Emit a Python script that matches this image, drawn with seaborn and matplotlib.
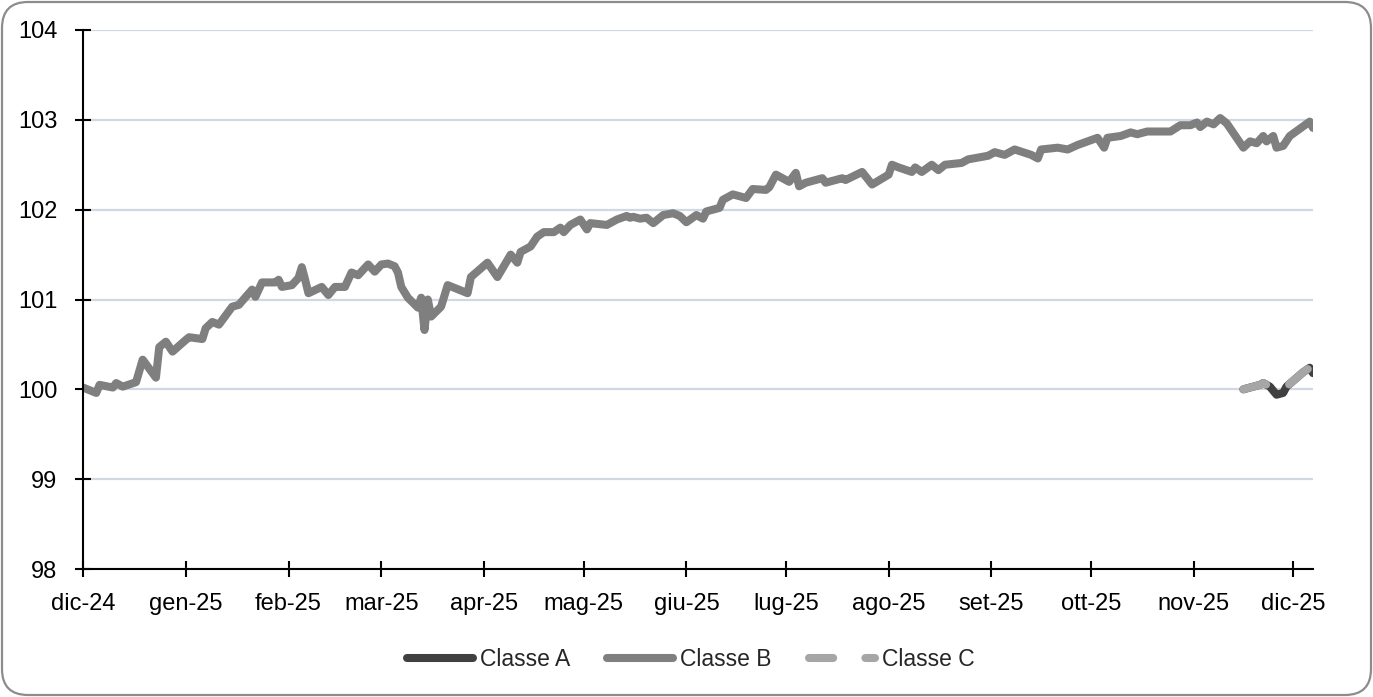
import numpy as np
import pandas as pd
import matplotlib
matplotlib.use("Agg")
import matplotlib.pyplot as plt
from matplotlib.patches import FancyBboxPatch
import seaborn as sns

# ── Data ──────────────────────────────────────────────────────────────────────
B_DATES = [
    "2024-12-01", "2024-12-05", "2024-12-06", "2024-12-10", "2024-12-11", "2024-12-13",
    "2024-12-17", "2024-12-19", "2024-12-23", "2024-12-24", "2024-12-26", "2024-12-28",
    "2025-01-01", "2025-01-02", "2025-01-06", "2025-01-07", "2025-01-09", "2025-01-11",
    "2025-01-15", "2025-01-17", "2025-01-21", "2025-01-22", "2025-01-24", "2025-01-28",
    "2025-01-29", "2025-01-30", "2025-02-02", "2025-02-04", "2025-02-05", "2025-02-06",
    "2025-02-07", "2025-02-11", "2025-02-13", "2025-02-15", "2025-02-18", "2025-02-20",
    "2025-02-22", "2025-02-25", "2025-02-27", "2025-03-01", "2025-03-03", "2025-03-05",
    "2025-03-06", "2025-03-07", "2025-03-09", "2025-03-12", "2025-03-13", "2025-03-14",
    "2025-03-15", "2025-03-16", "2025-03-19", "2025-03-21", "2025-03-27", "2025-03-28",
    "2025-04-02", "2025-04-05", "2025-04-09", "2025-04-11", "2025-04-12", "2025-04-15",
    "2025-04-17", "2025-04-19", "2025-04-22", "2025-04-24", "2025-04-25", "2025-04-27",
    "2025-04-30", "2025-05-02", "2025-05-03", "2025-05-08", "2025-05-11", "2025-05-14",
    "2025-05-15", "2025-05-16", "2025-05-18", "2025-05-20", "2025-05-22", "2025-05-25",
    "2025-05-28", "2025-05-30", "2025-06-01", "2025-06-04", "2025-06-06", "2025-06-07",
    "2025-06-11", "2025-06-12", "2025-06-15", "2025-06-19", "2025-06-21", "2025-06-25",
    "2025-06-26", "2025-06-28", "2025-07-02", "2025-07-04", "2025-07-05", "2025-07-07",
    "2025-07-12", "2025-07-13", "2025-07-18", "2025-07-19", "2025-07-24", "2025-07-27",
    "2025-08-01", "2025-08-02", "2025-08-04", "2025-08-08", "2025-08-09", "2025-08-11",
    "2025-08-14", "2025-08-16", "2025-08-18", "2025-08-23", "2025-08-25", "2025-08-31",
    "2025-09-02", "2025-09-05", "2025-09-08", "2025-09-13", "2025-09-15", "2025-09-16",
    "2025-09-21", "2025-09-24", "2025-09-27", "2025-09-30", "2025-10-03", "2025-10-05",
    "2025-10-06", "2025-10-10", "2025-10-13", "2025-10-15", "2025-10-18", "2025-10-25",
    "2025-10-28", "2025-10-31", "2025-11-02", "2025-11-03", "2025-11-05", "2025-11-07",
    "2025-11-09", "2025-11-11", "2025-11-16", "2025-11-18", "2025-11-20", "2025-11-22",
    "2025-11-23", "2025-11-25", "2025-11-26", "2025-11-28", "2025-11-30", "2025-12-06",
    "2025-12-07",
]
B_VALUES = [
    100.02, 99.96, 100.05, 100.02, 100.07, 100.03,
    100.08, 100.33, 100.13, 100.47, 100.53, 100.42,
    100.55, 100.58, 100.56, 100.68, 100.75, 100.72,
    100.92, 100.94, 101.11, 101.03, 101.19, 101.19,
    101.22, 101.14, 101.16, 101.24, 101.36, 101.22,
    101.07, 101.14, 101.05, 101.14, 101.14, 101.30,
    101.27, 101.39, 101.31, 101.39, 101.40, 101.37,
    101.30, 101.14, 101.02, 100.91, 101.02, 100.66,
    101.00, 100.81, 100.92, 101.16, 101.07, 101.25,
    101.41, 101.25, 101.50, 101.41, 101.53, 101.59,
    101.70, 101.75, 101.75, 101.80, 101.75, 101.83,
    101.89, 101.78, 101.85, 101.83, 101.89, 101.93,
    101.91, 101.92, 101.90, 101.91, 101.85, 101.94,
    101.96, 101.93, 101.86, 101.94, 101.90, 101.98,
    102.02, 102.11, 102.17, 102.13, 102.23, 102.22,
    102.25, 102.39, 102.31, 102.41, 102.26, 102.30,
    102.35, 102.30, 102.35, 102.33, 102.42, 102.28,
    102.39, 102.50, 102.47, 102.42, 102.47, 102.42,
    102.50, 102.44, 102.50, 102.52, 102.56, 102.60,
    102.64, 102.61, 102.67, 102.61, 102.57, 102.67,
    102.69, 102.67, 102.72, 102.76, 102.80, 102.69,
    102.80, 102.82, 102.86, 102.84, 102.87, 102.87,
    102.94, 102.94, 102.97, 102.92, 102.98, 102.95,
    103.02, 102.96, 102.69, 102.76, 102.74, 102.82,
    102.76, 102.82, 102.69, 102.71, 102.82, 102.98,
    102.91,
]

A_DATES = ["2025-11-16", "2025-11-21", "2025-11-22", "2025-11-24", "2025-11-26",
           "2025-11-28", "2025-11-29", "2025-12-04", "2025-12-06", "2025-12-07"]
A_VALUES = [100.00, 100.05, 100.07, 100.03, 99.94, 99.96, 100.03, 100.19, 100.24, 100.18]
C_DATES = ["2025-11-16", "2025-11-21", "2025-11-22", "2025-11-24", "2025-11-26",
           "2025-11-28", "2025-11-29", "2025-12-04", "2025-12-06", "2025-12-07"]
C_VALUES = [100.00, 100.05, 100.07, 100.03, 99.94, 99.96, 100.03, 100.19, 100.24, 100.18]

TICK_DATES = ["2024-12-01", "2025-01-01", "2025-02-01", "2025-03-01", "2025-04-01",
              "2025-05-01", "2025-06-01", "2025-07-01", "2025-08-01", "2025-09-01",
              "2025-10-01", "2025-11-01", "2025-12-01"]
TICK_LABELS = ["dic-24", "gen-25", "feb-25", "mar-25", "apr-25", "mag-25", "giu-25",
               "lug-25", "ago-25", "set-25", "ott-25", "nov-25", "dic-25"]
Y_TICKS = [98, 99, 100, 101, 102, 103, 104]

COL_A = "#404040"
COL_B = "#7f7f7f"
COL_C = "#a6a6a6"
GRID = "#d0d8e4"


def main():
    sns.set_theme(style="white")
    plt.rcParams["font.family"] = ["Liberation Sans", "DejaVu Sans"]

    fig = plt.figure(figsize=(13.73, 6.97), dpi=100)
    ax = fig.add_axes([83 / 1373, 1 - 569 / 697, 1230 / 1373, 539 / 697])

    df_a = pd.DataFrame({"date": pd.to_datetime(A_DATES), "val": A_VALUES})
    df_b = pd.DataFrame({"date": pd.to_datetime(B_DATES), "val": B_VALUES})
    df_c = pd.DataFrame({"date": pd.to_datetime(C_DATES), "val": C_VALUES})

    lw = 5.8
    sns.lineplot(data=df_a, x="date", y="val", ax=ax, color=COL_A, linewidth=lw,
                 label="Classe A", solid_capstyle="round", solid_joinstyle="round")
    sns.lineplot(data=df_b, x="date", y="val", ax=ax, color=COL_B, linewidth=lw,
                 label="Classe B", solid_capstyle="round", solid_joinstyle="round")
    sns.lineplot(data=df_c, x="date", y="val", ax=ax, color=COL_C, linewidth=lw,
                 label="Classe C", linestyle=(0, (3.0, 4.0)),
                 dash_capstyle="round", dash_joinstyle="round")

    ax.set_xlim(pd.Timestamp("2024-12-01"), pd.Timestamp("2025-12-07"))
    ax.set_ylim(98, 104)
    ax.set_yticks(Y_TICKS)
    ax.set_xticks(pd.to_datetime(TICK_DATES))
    ax.set_xticklabels(TICK_LABELS)
    ax.set_xlabel("")
    ax.set_ylabel("")

    ax.grid(axis="y", color=GRID, linewidth=1.6)
    ax.set_axisbelow(True)
    for side in ["top", "right"]:
        ax.spines[side].set_visible(False)
    for side in ["left", "bottom"]:
        ax.spines[side].set_color("black")
        ax.spines[side].set_linewidth(1.5)
    ax.tick_params(axis="both", direction="inout", length=11, width=1.5,
                   bottom=True, left=True, colors="black",
                   labelsize=17, labelcolor="black")
    ax.tick_params(axis="y", pad=13)
    ax.tick_params(axis="x", pad=12)
    ax.legend_.remove()

    handles, labels = ax.get_legend_handles_labels()
    fig.legend(handles, labels, loc="center", bbox_to_anchor=(0.503, 1 - 660 / 697),
               ncol=3, frameon=False, fontsize=16.5, handlelength=2.9,
               handletextpad=0.3, columnspacing=1.6)

    # rounded chart-area border
    border = FancyBboxPatch((2, 2), 1369, 693, boxstyle="round,pad=0,rounding_size=26",
                            transform=None, facecolor="none", edgecolor="#8c8c8c",
                            linewidth=1.6)
    fig.patches.append(border)

    fig.savefig("out.png", dpi=100)
    plt.close(fig)


if __name__ == "__main__":
    main()
